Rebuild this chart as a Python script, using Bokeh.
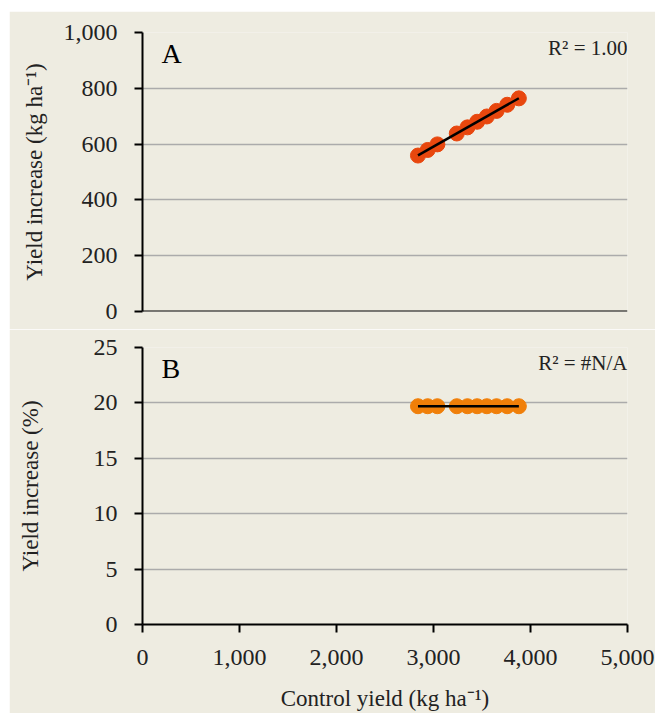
import numpy as np
from bokeh.plotting import figure
from bokeh.layouts import column
from bokeh.models import Range1d, FixedTicker, NumeralTickFormatter, Label, Span
from bokeh.embed import file_html
from bokeh.resources import INLINE

# ---- data ----
control_yield = [2840, 2940, 3040, 3240, 3350, 3450, 3550, 3650, 3760, 3880]
yield_increase_kg = [559, 579, 599, 638, 660, 680, 699, 719, 741, 764]
yield_increase_pct = [19.7, 19.7, 19.7, 19.7, 19.7, 19.7, 19.7, 19.7, 19.7, 19.7]
x_ticks = [0, 1000, 2000, 3000, 4000, 5000]
a_ticks = [0, 200, 400, 600, 800, 1000]
b_ticks = [0, 5, 10, 15, 20, 25]
r2_a = "R\u00b2 = 1.00"
r2_b = "R\u00b2 = #N/A"

FONT = "Liberation Serif"
BG = "#EEECE1"
TXT = "#222222"
COL_A = "#E8470E"
COL_B = "#F07F09"


def style(p):
    p.background_fill_color = BG
    p.border_fill_color = BG
    p.outline_line_color = None
    p.xgrid.visible = False
    p.ygrid.grid_line_color = "#ABABAB"
    p.ygrid.grid_line_width = 1.5
    for ax in (p.xaxis[0], p.yaxis[0]):
        ax.axis_line_color = "black"
        ax.axis_line_width = 2
        ax.major_tick_line_color = "black"
        ax.major_tick_line_width = 2
        ax.major_tick_in = 0
        ax.major_tick_out = 8
        ax.minor_tick_line_color = None
        ax.major_label_text_font = FONT
        ax.major_label_text_font_size = "24px"
        ax.major_label_text_color = TXT
        ax.axis_label_text_font = FONT
        ax.axis_label_text_font_size = "23px"
        ax.axis_label_text_font_style = "normal"
        ax.axis_label_text_color = TXT


def trend(p, x, y):
    slope, intercept = np.polyfit(np.array(x, float), np.array(y, float), 1)
    xs = [min(x), max(x)]
    p.line(xs, [slope * v + intercept for v in xs], line_color="black", line_width=2.5)


# ---- panel A ----
pa = figure(width=646, height=318, output_backend="svg", toolbar_location=None,
            x_range=Range1d(0, 5000), y_range=Range1d(0, 1000),
            min_border_left=133, min_border_right=28, min_border_top=21, min_border_bottom=18)
style(pa)
pa.xaxis.visible = False
pa.add_layout(Span(location=0, dimension="width", line_color="black", line_width=2))
pa.yaxis.ticker = FixedTicker(ticks=a_ticks)
pa.yaxis.formatter = NumeralTickFormatter(format="0,0")
pa.yaxis.major_label_standoff = 17
pa.yaxis.axis_label = "Yield increase (kg ha\u207b\u00b9)"
pa.yaxis.axis_label_standoff = 14
pa.scatter(control_yield, yield_increase_kg, size=15, fill_color=COL_A, line_color=COL_A)
trend(pa, control_yield, yield_increase_kg)
pa.add_layout(Label(x=5000, y=1000, y_offset=-3, text=r2_a, text_align="right",
                    text_baseline="top", text_font=FONT, text_font_size="21px", text_color=TXT))
pa.add_layout(Label(x=0, y=1000, x_offset=19, y_offset=-5, text="A", text_align="left",
                    text_baseline="top", text_font=FONT, text_font_size="28px", text_color="black"))

# ---- panel B ----
pb = figure(width=646, height=384, output_backend="svg", toolbar_location=None,
            x_range=Range1d(0, 5000), y_range=Range1d(0, 25),
            min_border_left=133, min_border_right=28, min_border_top=18, min_border_bottom=88)
style(pb)
pb.xaxis.ticker = FixedTicker(ticks=x_ticks)
pb.xaxis.formatter = NumeralTickFormatter(format="0,0")
pb.xaxis.major_label_standoff = 17
pb.xaxis.axis_label = "Control yield (kg ha\u207b\u00b9)"
pb.xaxis.axis_label_standoff = 18
pb.yaxis.ticker = FixedTicker(ticks=b_ticks)
pb.yaxis.major_label_standoff = 17
pb.yaxis.axis_label = "Yield increase (%)"
pb.yaxis.axis_label_standoff = 48
pb.scatter(control_yield, yield_increase_pct, size=15, fill_color=COL_B, line_color=COL_B)
trend(pb, control_yield, yield_increase_pct)
pb.add_layout(Label(x=5000, y=25, y_offset=-3, text=r2_b, text_align="right",
                    text_baseline="top", text_font=FONT, text_font_size="21px", text_color=TXT))
pb.add_layout(Label(x=0, y=25, x_offset=19, y_offset=-5, text="B", text_align="left",
                    text_baseline="top", text_font=FONT, text_font_size="28px", text_color="black"))

layout = column(pa, pb, spacing=0, margin=(11, 0, 0, 9))
open("out.html", "w").write(file_html(layout, INLINE))
